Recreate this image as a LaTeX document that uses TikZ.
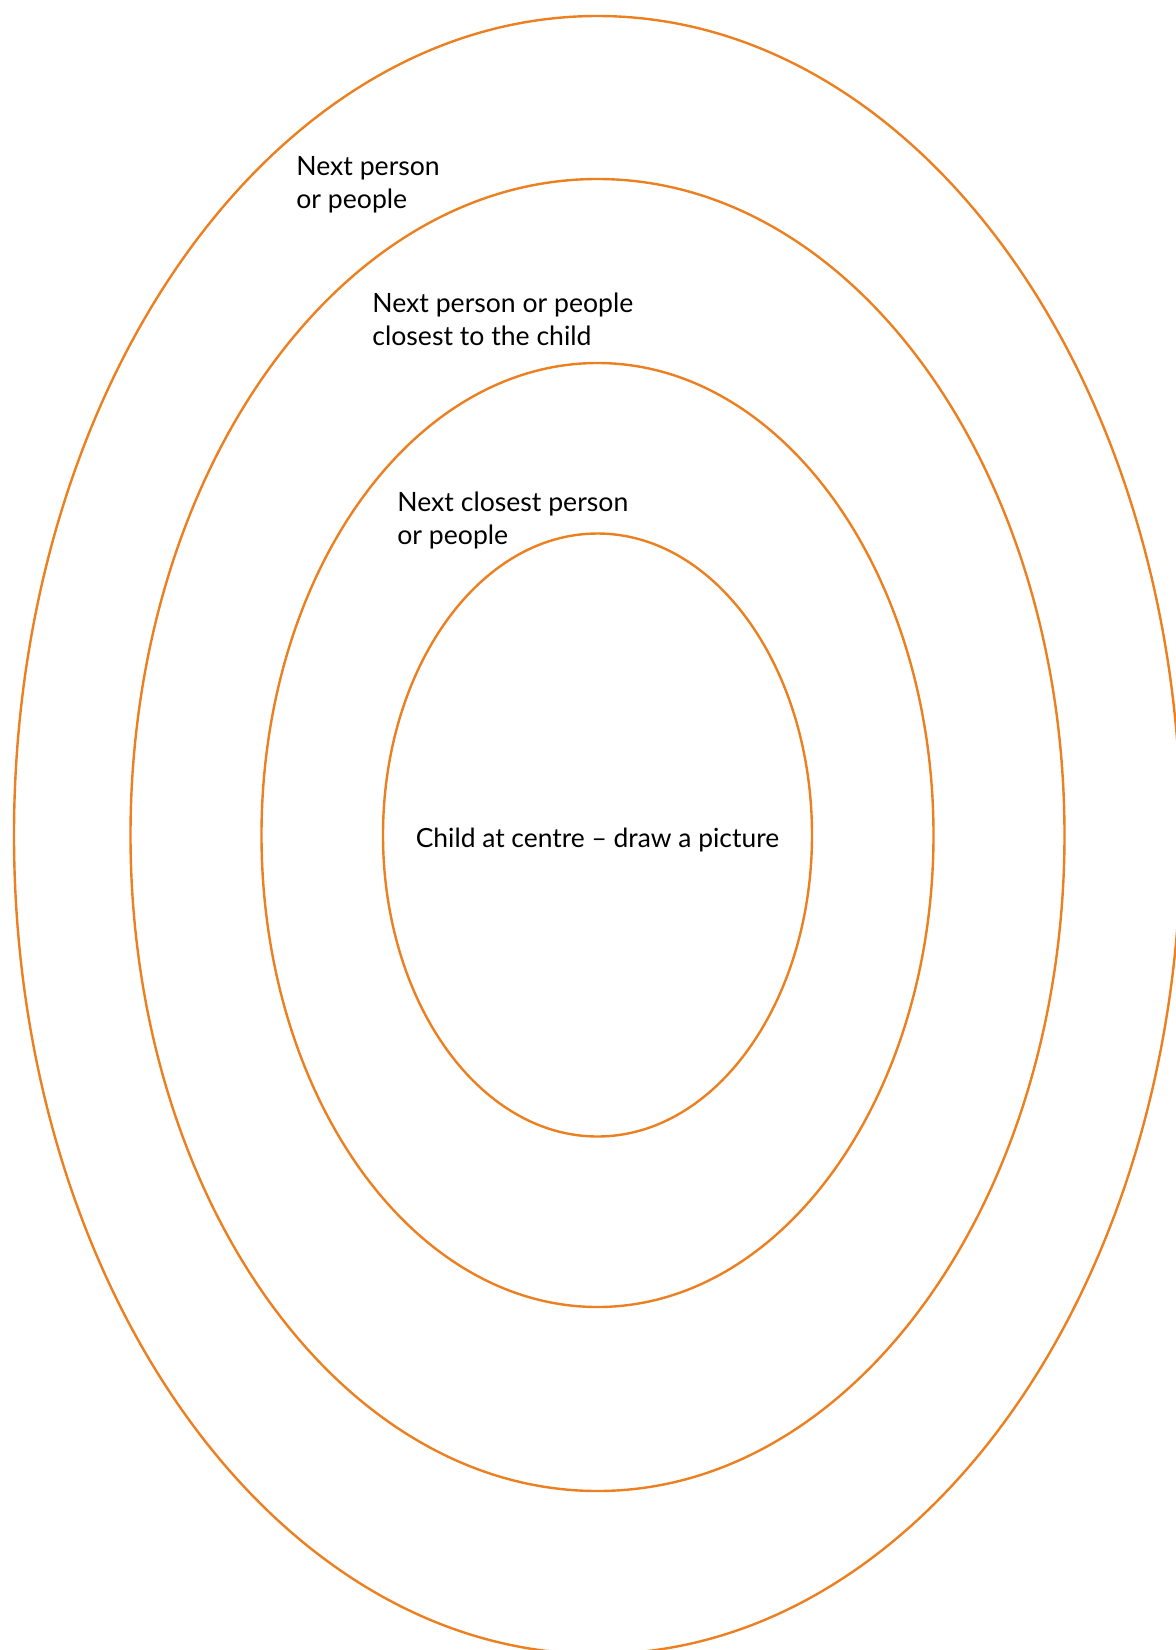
\documentclass[tikz,border=0pt]{standalone}
\usepackage{fontspec}
\setmainfont{Lato}
\definecolor{ringorange}{RGB}{236,128,32}

\begin{document}
\begin{tikzpicture}[x=0.5pt, y=-0.5pt,
    ring/.style={draw=ringorange, line width=1.2pt},
    ringlabel/.style={anchor=base west, align=left, inner sep=0pt,
        font=\fontsize{13.3}{16.5}\selectfont}]

    \useasboundingbox (0,0) rectangle (1176,1650);
    \clip (0,0) rectangle (1176,1650);

    % Rings
    \draw[ring] (597.5,835) ellipse (583.5 and 819);
    \draw[ring] (597.5,835) ellipse (467 and 656);
    \draw[ring] (597.5,835) ellipse (336 and 472);
    \draw[ring] (597.5,835) ellipse (214.5 and 301.5);

    % Labels (anchored on the baseline of their last line)
    \node[ringlabel] (outerlabel) at (296,208) {Next person\\or people};
    \node[ringlabel] (secondlabel) at (372,345) {Next person or people\\closest to the child};
    \node[ringlabel] (thirdlabel) at (397,544) {Next closest person\\or people};
    \node[anchor=base, inner sep=0pt, font=\fontsize{13.2}{16.5}\selectfont] (childlabel)
        at (597.5,847) {Child at centre -- draw a picture};
\end{tikzpicture}
\end{document}
